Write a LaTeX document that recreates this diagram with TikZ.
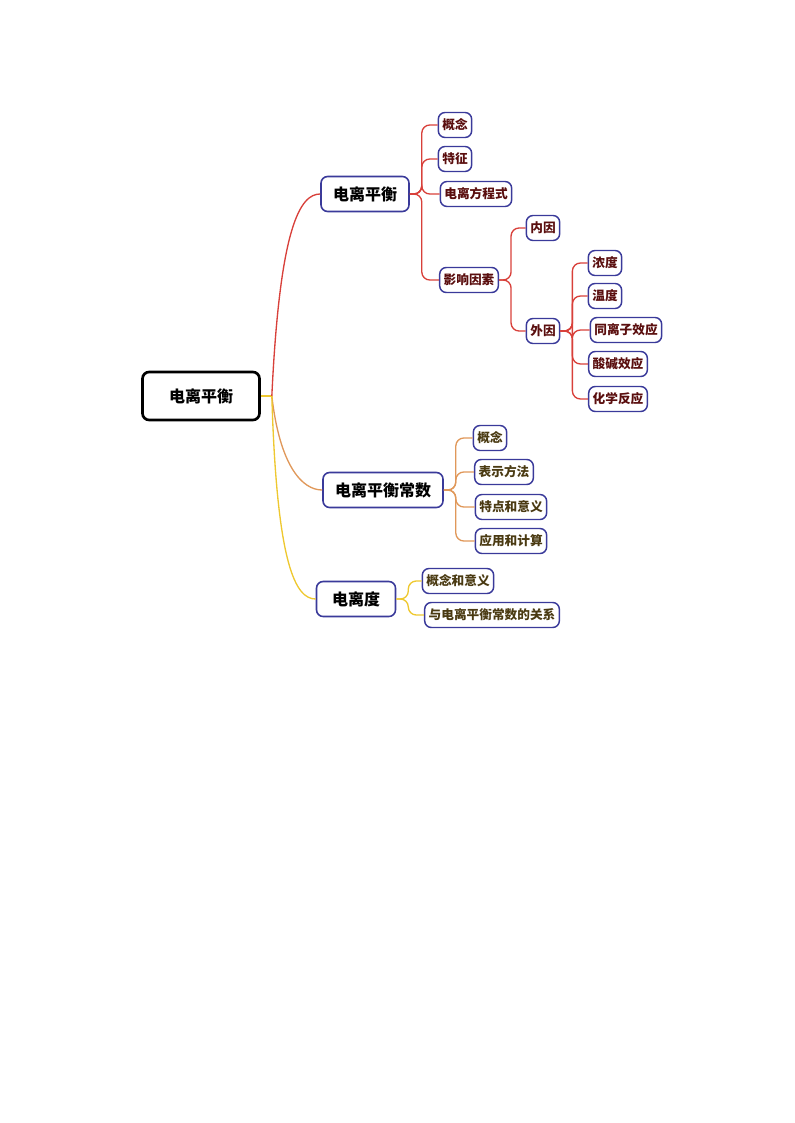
\documentclass[tikz,border=0pt]{standalone}
\usepackage{fontspec}
\setmainfont{Noto Sans CJK SC}
\usetikzlibrary{calc}
\definecolor{bnavy}{HTML}{3A3A9A}
\definecolor{cred}{HTML}{D8403A}
\definecolor{corange}{HTML}{E0985A}
\definecolor{cyellow}{HTML}{EEC830}
\definecolor{tred}{HTML}{5A0E0E}
\definecolor{tolive}{HTML}{4A3A12}
\tikzset{
  rootbox/.style={draw=black,line width=2pt,rounded corners=5pt,minimum width=117*0.75pt,minimum height=48*0.75pt,font=\bfseries\fontsize{12}{14}\selectfont},
  mainbox/.style={draw=bnavy,line width=1.2pt,rounded corners=5pt,minimum height=35*0.75pt,inner xsep=9pt,font=\bfseries\fontsize{12}{14}\selectfont},
  leafbox/.style={draw=bnavy,line width=1.1pt,rounded corners=5pt,minimum height=25*0.75pt,inner xsep=3pt,inner ysep=1pt,font=\bfseries\fontsize{9.5}{11}\selectfont},
  redleaf/.style={leafbox,text=tred},
  oleaf/.style={leafbox,text=tolive},
  conn/.style={line width=1pt,rounded corners=6pt}
}
\begin{document}
\begin{tikzpicture}[x=0.75pt,y=-0.75pt]
\useasboundingbox (0,0) rectangle (794,1123);
\node[rootbox] (root) at (201,396) {电离平衡};
\node[mainbox] (a) at (365,194) {电离平衡};
\node[mainbox] (b) at (383,490) {电离平衡常数};
\node[mainbox,minimum width=79*0.75pt] (c) at (356,599) {电离度};
% red branch
\node[redleaf] (a1) at (455,125) {概念};
\node[redleaf] (a2) at (455,159) {特征};
\node[redleaf] (a3) at (476,194) {电离方程式};
\node[redleaf] (a4) at (469,280) {影响因素};
\node[redleaf] (n1) at (543,228) {内因};
\node[redleaf] (n2) at (543,331) {外因};
\node[redleaf] (w1) at (605,263) {浓度};
\node[redleaf] (w2) at (605,296) {温度};
\node[redleaf] (w3) at (626,330) {同离子效应};
\node[redleaf] (w4) at (618,364) {酸碱效应};
\node[redleaf] (w5) at (618,399) {化学反应};
% orange
\node[oleaf] (b1) at (490,438) {概念};
\node[oleaf] (b2) at (504,472) {表示方法};
\node[oleaf] (b3) at (511,507) {特点和意义};
\node[oleaf] (b4) at (511,541) {应用和计算};
% yellow
\node[oleaf] (c1) at (458,581) {概念和意义};
\node[oleaf] (c2) at (492,615) {与电离平衡常数的关系};
% root connectors
\coordinate (rj) at ($(root.east)+(11,0)$);
\draw[cyellow,line width=1pt] (root.east) -- (rj);
\draw[cred,line width=1pt] (rj) .. controls +(8,-170) and +(-20,0) .. (a.west);
\draw[corange,line width=1pt] (rj) .. controls +(8,70) and +(-20,0) .. (b.west);
\draw[cyellow,line width=1pt] (rj) .. controls +(5,170) and +(-20,0) .. (c.west);
% children
\foreach \t in {a1,a2,a3,a4} \draw[conn,cred] (a.east) -- ++(12,0) |- (\t.west);
\foreach \t in {n1,n2} \draw[conn,cred] (a4.east) -- ++(12,0) |- (\t.west);
\foreach \t in {w1,w2,w3,w4,w5} \draw[conn,cred] (n2.east) -- ++(12,0) |- (\t.west);
\foreach \t in {b1,b2,b3,b4} \draw[conn,corange] (b.east) -- ++(12,0) |- (\t.west);
\foreach \t in {c1,c2} \draw[conn,cyellow] (c.east) -- ++(12,0) |- (\t.west);
\end{tikzpicture}
\end{document}
